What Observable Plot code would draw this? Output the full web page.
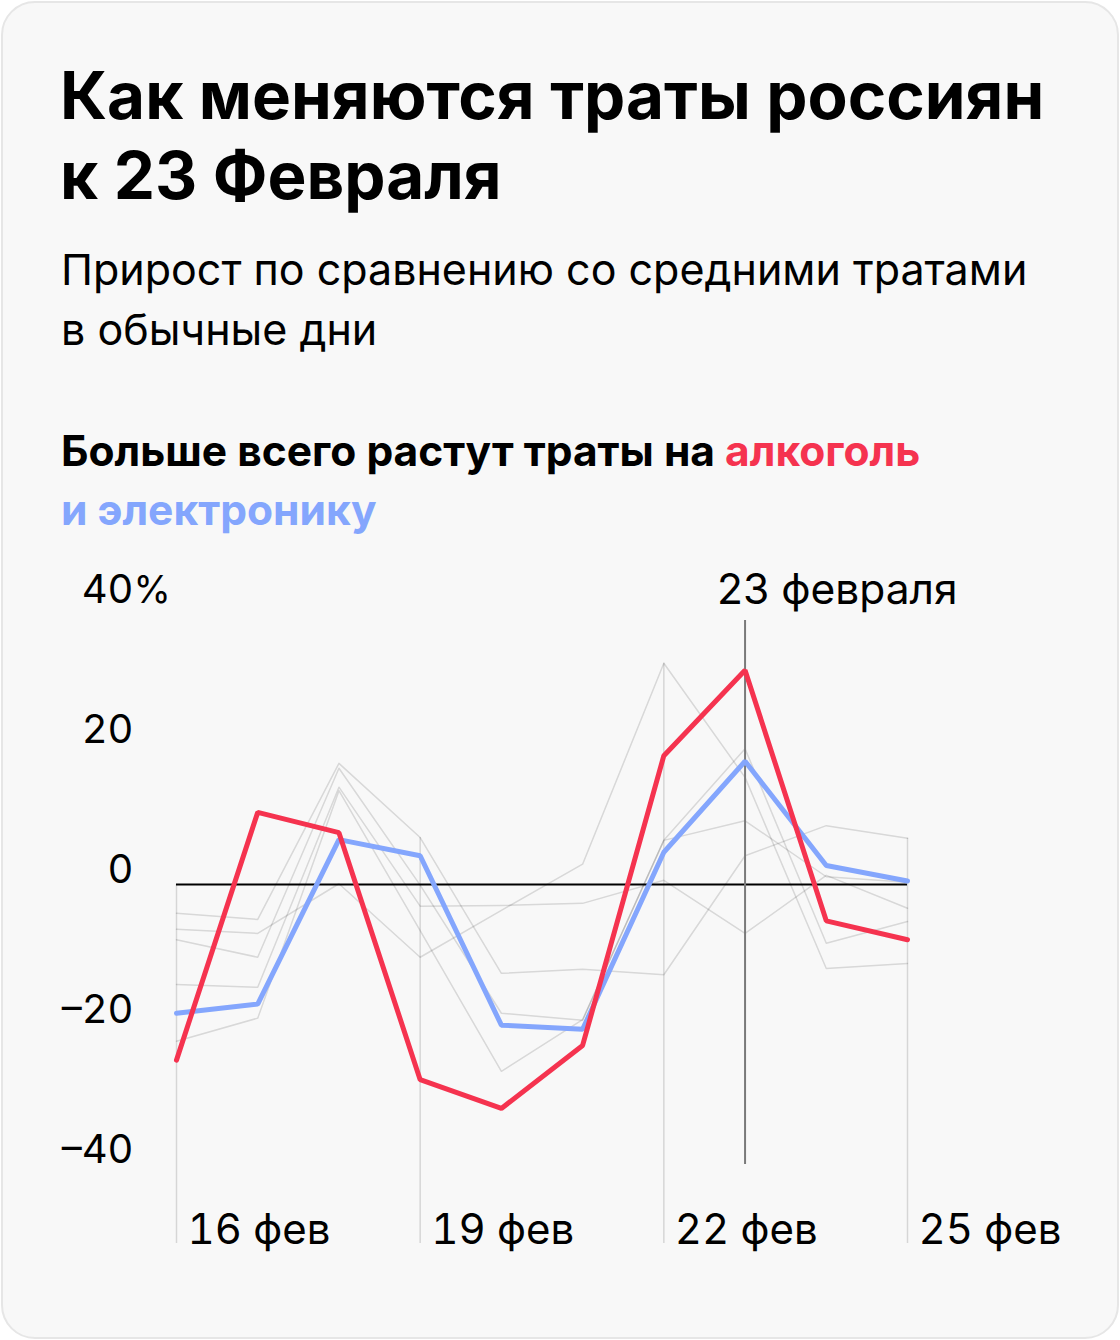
<!DOCTYPE html>
<html>
<head>
<meta charset="utf-8">
<script src="https://cdn.jsdelivr.net/npm/d3@7"></script>
<script src="https://cdn.jsdelivr.net/npm/@observablehq/plot@0.6"></script>
<style>
  html, body { margin: 0; padding: 0; background: #ffffff; }
  body { width: 1120px; height: 1340px; position: relative; overflow: hidden; font-family: Inter, "Noto Sans", sans-serif; color: #000; }
  .card { position: absolute; left: 1px; top: 1px; width: 1114px; height: 1334px; background: #f8f8f8; border: 2px solid #e6e6e6; border-radius: 34px; }
  .title { position: absolute; left: 60px; top: 56px; font-size: 65.5px; line-height: 80px; font-weight: 700; white-space: nowrap; }
  .subtitle { position: absolute; left: 61px; top: 239px; font-size: 43px; line-height: 60px; font-weight: 400; white-space: nowrap; }
  .heading { position: absolute; left: 61px; top: 421px; font-size: 42.5px; line-height: 59px; font-weight: 700; white-space: nowrap; }
  .red { color: #f5334f; }
  .blue { color: #84a6fd; }
  #chart { position: absolute; left: 0; top: 560px; }
</style>
</head>
<body>
<div class="card"></div>
<div class="title">Как меняются траты россиян<br>к 23 Февраля</div>
<div class="subtitle">Прирост по сравнению со средними тратами<br>в обычные дни</div>
<div class="heading">Больше всего растут траты на <span class="red">алкоголь</span><br><span class="blue">и электронику</span></div>
<div id="chart"></div>
<script>
// Days of February
const days = [16, 17, 18, 19, 20, 21, 22, 23, 24, 25];
// Highlighted series (% growth vs. ordinary days)
const alcohol     = [-25.1, 10.3, 7.4, -27.9, -32.0, -23.0, 18.4, 30.6, -5.2, -7.9];
const electronics = [-18.4, -17.1, 6.4, 4.1, -20.1, -20.7, 4.6, 17.6, 2.7, 0.5];
// Other categories (grey background lines)
const other1 = [-6.4, -7.0, 0.1, -10.4, -3.7, 2.9, 31.6, 15.3, -12.0, -11.3];
const other2 = [-14.3, -14.7, 13.9, -3.1, -3.0, -2.7, 0.6, -7.0, 1.3, -3.4];
const other3 = [-4.1, -5.0, 17.3, 6.7, -12.7, -12.1, -12.9, 4.1, 8.4, 6.6];
const other4 = [-7.9, -10.4, 16.6, -0.1, -18.4, -19.4, 6.3, 19.4, -8.4, -5.3];
const other5 = [-22.4, -19.1, 13.4, -6.6, -26.7, -19.3, 6.3, 9.1, 1.1, 0.3];
// Axis ticks and extent
const xTicks = [16, 19, 22, 25];
const xTickLabel = "фев";
const yTicks = [-40, -20, 0, 20, 40];
const yExtent = [-51.3, 40];
// Annotation
const markerDay = 23;
const markerLabel = "23 февраля";
const markerRange = [-40, 37.7];

const others = [other1, other2, other3, other4, other5];
const greyRows = others.flatMap((s, k) => s.map((v, i) => ({day: days[i], value: v, series: "o" + k})));
const alcRows = alcohol.map((v, i) => ({day: days[i], value: v}));
const eleRows = electronics.map((v, i) => ({day: days[i], value: v}));
const allSeries = [alcohol, electronics, ...others];
const tickRows = xTicks.map(d => {
  const i = days.indexOf(d);
  return {day: d, top: Math.max(0, d3.max(allSeries, s => s[i])), bottom: yExtent[0]};
});

const chart = Plot.plot({
  width: 1120,
  height: 720,
  marginLeft: 176,
  marginRight: 213,
  marginTop: 44,
  marginBottom: 37,
  style: {background: "transparent", fontFamily: "Inter, 'Noto Sans', sans-serif", fontSize: "40px", color: "#000"},
  x: {domain: [16, 25], type: "linear", label: null},
  y: {domain: yExtent, label: null},
  marks: [
    Plot.ruleX(tickRows, {x: "day", y1: "top", y2: "bottom", stroke: "#d6d6d6", strokeWidth: 1.5}),
    Plot.line(greyRows, {x: "day", y: "value", z: "series", stroke: "#000", strokeOpacity: 0.13, strokeWidth: 1.5}),
    Plot.ruleY([0], {stroke: "#000", strokeWidth: 2}),
    Plot.ruleX([markerDay], {y1: markerRange[0], y2: markerRange[1], stroke: "#7a7a7a", strokeWidth: 2}),
    Plot.text([markerLabel], {x: markerDay, y: 40, text: d => d, textAnchor: "start", dx: -28, dy: -14, fontSize: 42.5, fill: "#000"}),
    Plot.line(eleRows, {x: "day", y: "value", stroke: "#84a6fd", strokeWidth: 5, strokeLinejoin: "miter"}),
    Plot.line(alcRows, {x: "day", y: "value", stroke: "#f5334f", strokeWidth: 5, strokeLinejoin: "miter"}),
    Plot.axisY({ticks: yTicks, tickSize: 0, tickPadding: 43, dy: -14, fontSize: 40, label: null,
      tickFormat: d => d < 0 ? "–" + Math.abs(d) : String(d)}),
    Plot.text(["%"], {frameAnchor: "left", y: yTicks[yTicks.length - 1], text: d => d, textAnchor: "start", dx: -43, dy: -14, fontSize: 38}),
    Plot.axisX({ticks: xTicks, tickSize: 0, tickPadding: 0, lineAnchor: "bottom", textAnchor: "start", dx: 11, dy: 0, fontSize: 42, label: null,
      tickFormat: d => d + " " + xTickLabel})
  ]
});
document.getElementById("chart").appendChild(chart);
</script>
</body>
</html>
